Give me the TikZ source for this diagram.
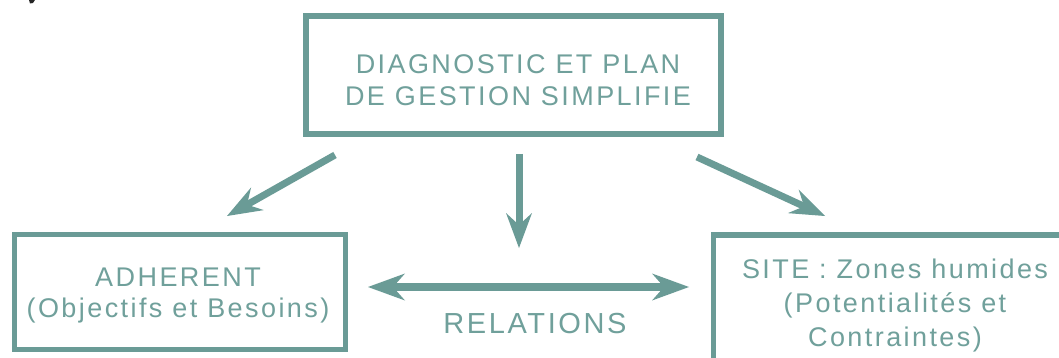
\documentclass[tikz,border=0pt]{standalone}
\usepackage{fontspec}
\setmainfont{Liberation Sans}[LetterSpace=9]
\usetikzlibrary{arrows.meta}
\definecolor{sage}{RGB}{106,155,150}
\definecolor{sagetext}{RGB}{112,160,155}

\tikzset{
  frame/.style={draw=sage, line width=5.5pt, inner sep=0pt, fill=none},
  txt/.style={text=sagetext, inner sep=0pt, align=center, text depth=0pt, anchor=south},
  tipA/.style={},
  arr/.style={draw=sage, line width=7pt,
    -{Stealth[length=35pt, width=26pt, inset=12pt, line width=0pt]}},
  dblarr/.style={draw=sage, line width=8pt,
    {Stealth[length=37pt, width=27pt, inset=12pt, line width=0pt]}-{Stealth[length=37pt, width=27pt, inset=12pt, line width=0pt]}},
}

\begin{document}
\begin{tikzpicture}[x=1pt, y=-1pt]
  \useasboundingbox (0,0) rectangle (1059,358);
  \clip (0,0) rectangle (1059,358);
  \fill[white] (0,0) rectangle (1059,358);

  % remnant of a clipped glyph at the top edge
  \fill[black!85] (29,0) -- (35,0) -- (33,3) -- (30,3.5) -- cycle;

  % boxes
  \node[frame, minimum width=415pt, minimum height=118pt] (diag) at (513.5,75) {};
  \node[frame, minimum width=331pt, minimum height=115pt] (adh) at (180,292) {};
  \node[frame, minimum width=362pt, minimum height=140pt] (site) at (894.5,305) {};

  % box texts
  \node[txt, font=\fontsize{27}{32}\selectfont] (diagtxt) at (518,106)
    {DIAGNOSTIC ET PLAN\\DE GESTION SIMPLIFIE};
  \node[txt, font=\fontsize{27}{31}\selectfont] (adhtxt) at (178,318)
    {ADHERENT\\(Objectifs et Besoins)};
  \node[txt, font=\fontsize{27}{34}\selectfont] (sitetxt) at (895,347)
    {SITE : Zones humides\\(Potentialités et\\Contraintes)};
  \node[txt, font=\fontsize{29}{34}\selectfont] (rel) at (535,334) {RELATIONS};

  % connector end points
  \coordinate (dl-a) at (335,155);
  \coordinate (dl-b) at (227,216);
  \coordinate (dm-a) at (519,154);
  \coordinate (dm-b) at (519,248);
  \coordinate (dr-a) at (697,157);
  \coordinate (dr-b) at (825,216);
  \coordinate (rel-l) at (368,287);
  \coordinate (rel-r) at (689,287);

  % connectors
  \draw[arr] (dl-a) -- (dl-b);
  \draw[arr] (dm-a) -- (dm-b);
  \draw[arr] (dr-a) -- (dr-b);
  \draw[dblarr] (rel-l) -- (rel-r);
\end{tikzpicture}
\end{document}
